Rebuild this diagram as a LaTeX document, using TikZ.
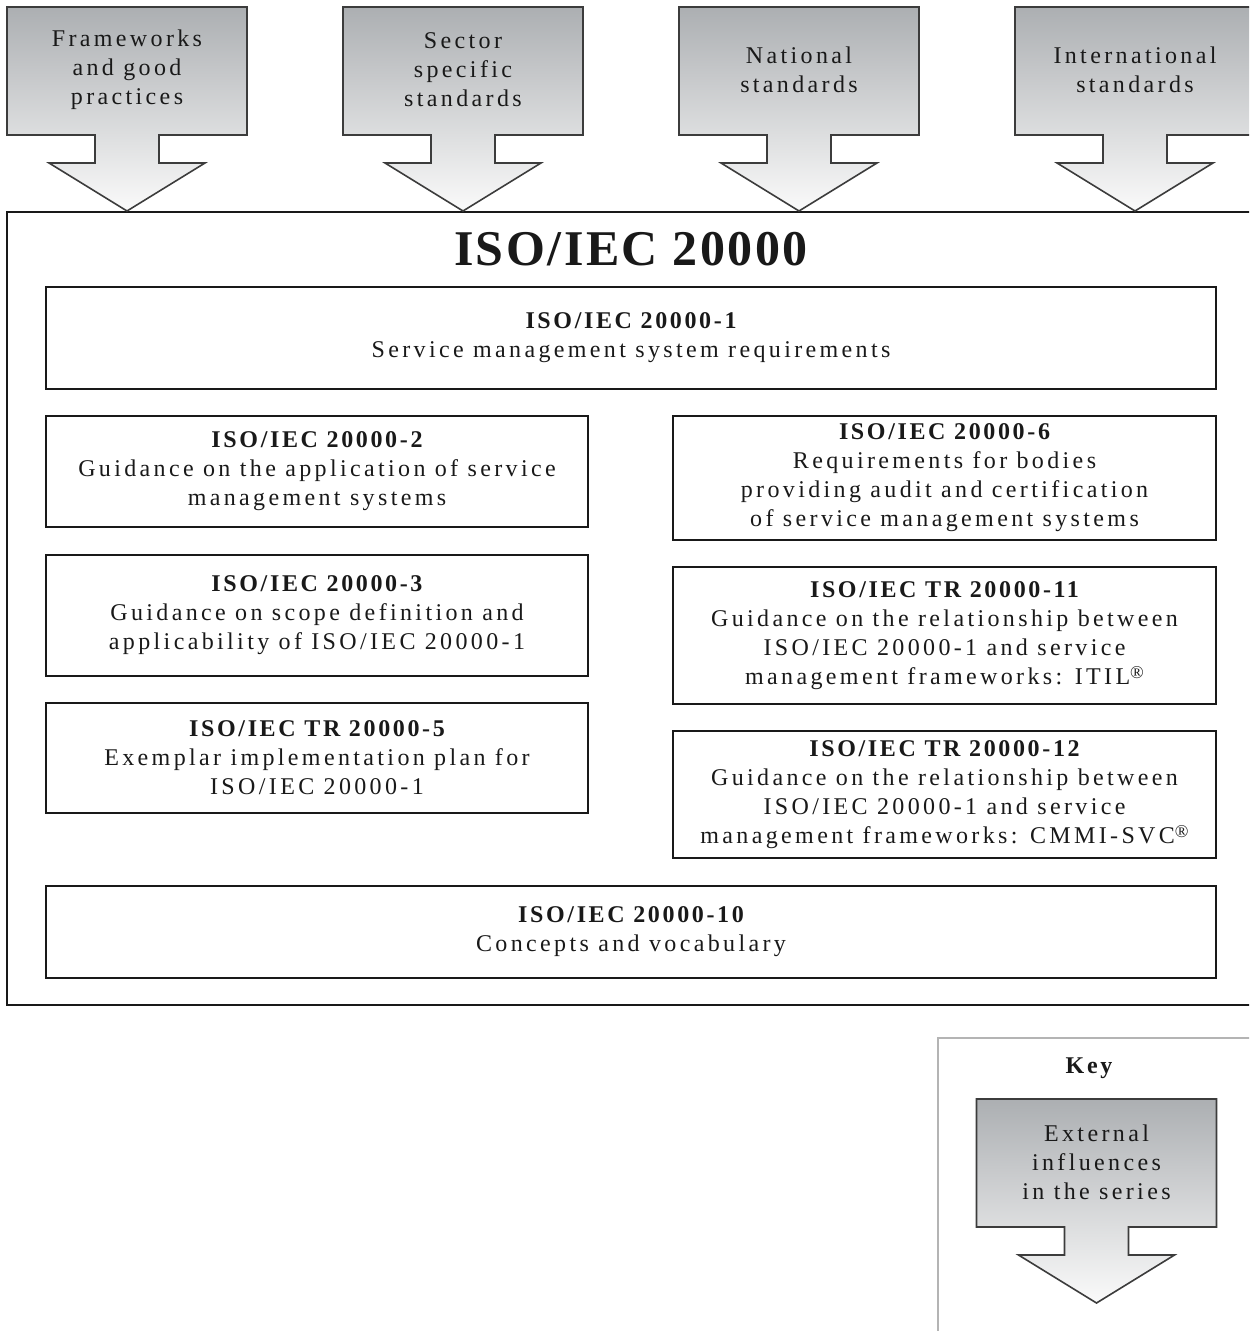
\documentclass[tikz,border=0pt]{standalone}
\usepackage{fontspec}
\setmainfont{Liberation Serif}[LetterSpace=14]
\newfontfamily\headfont{Liberation Serif}[LetterSpace=11]
\newfontfamily\titlefont{Liberation Serif}[LetterSpace=5]
\definecolor{arrtop}{RGB}{172,175,178}
\definecolor{arrbot}{RGB}{250,250,250}
\definecolor{keygray}{RGB}{180,180,180}
\definecolor{ink}{RGB}{25,25,25}
\tikzset{
  box/.style={draw=ink, line width=1pt, fill=white, align=center, inner sep=0pt,
    text=ink, font=\fontsize{12}{14.5}\selectfont},
  exttext/.style={align=center, inner sep=0pt, text=ink, font=\fontsize{12}{14.5}\selectfont},
  extshape/.style={draw=ink!85, line width=0.8pt, top color=arrtop, bottom color=arrbot},
}
\newcommand\hd[1]{{\headfont\bfseries #1}}
\newcommand\regmark{\raisebox{0.55ex}{\fontsize{9}{9}\selectfont ®}}
\newcommand\ExtArrow[4]{%
  \path[extshape] (#1-120,#2) -- (#1+120,#2) -- (#1+120,#2+128) -- (#1+32,#2+128)
    -- (#1+32,#2+156) -- (#1+78,#2+156) -- (#1,#2+204) -- (#1-78,#2+156)
    -- (#1-32,#2+156) -- (#1-32,#2+128) -- (#1-120,#2+128) -- cycle;
  \node[exttext] (#3) at (#1,#2+63) {#4};
}
\begin{document}
\begin{tikzpicture}[x=0.5pt,y=-0.5pt]
\useasboundingbox (0,0) rectangle (1249,1331);
\clip (0,0) rectangle (1249,1331);
% outer frame
\draw[ink, line width=1pt, fill=white] (7,212) rectangle (1262,1005);
% external influence arrows
\ExtArrow{127}{7}{fw}{Frameworks\\and good\\practices}
\ExtArrow{463}{7}{sec}{Sector\\specific\\standards}
\ExtArrow{799}{7}{nat}{National\\standards}
\ExtArrow{1135}{7}{intl}{International\\standards}
% title
\node[text=ink, inner sep=0pt, font=\fontsize{25}{30}\selectfont\titlefont\bfseries] (title) at (631,249) {ISO/IEC 20000};
% boxes
\node[box, minimum width=585pt, minimum height=51pt] (p1) at (631,338)
  {\hd{ISO/IEC 20000-1}\\Service management system requirements};
\node[box, minimum width=271pt, minimum height=55.5pt] (p2) at (317,471.5)
  {\hd{ISO/IEC 20000-2}\\Guidance on the application of service\\management systems};
\node[box, minimum width=271pt, minimum height=60.5pt] (p3) at (317,615.5)
  {\hd{ISO/IEC 20000-3}\\Guidance on scope definition and\\applicability of ISO/IEC 20000-1};
\node[box, minimum width=271pt, minimum height=55pt] (p5) at (317,758)
  {\hd{ISO/IEC TR 20000-5}\\Exemplar implementation plan for\\ISO/IEC 20000-1};
\node[box, minimum width=271.5pt, minimum height=62pt] (p6) at (944.5,478)
  {\hd{ISO/IEC 20000-6}\\Requirements for bodies\\providing audit and certification\\of service management systems};
\node[box, minimum width=271.5pt, minimum height=68.5pt] (p11) at (944.5,635.5)
  {\hd{ISO/IEC TR 20000-11}\\Guidance on the relationship between\\ISO/IEC 20000-1 and service\\management frameworks: ITIL\regmark};
\node[box, minimum width=271.5pt, minimum height=63.5pt] (p12) at (944.5,794.5)
  {\hd{ISO/IEC TR 20000-12}\\Guidance on the relationship between\\ISO/IEC 20000-1 and service\\management frameworks: CMMI-SVC\regmark};
\node[box, minimum width=585pt, minimum height=46pt] (p10) at (631,932)
  {\hd{ISO/IEC 20000-10}\\Concepts and vocabulary};
% key
\draw[keygray, line width=1pt] (938,1340) -- (938,1038) -- (1260,1038);
\node[text=ink, inner sep=0pt, font=\fontsize{12}{14.5}\selectfont\headfont\bfseries] (key) at (1089,1068) {Key};
\ExtArrow{1096.5}{1099}{keyarrow}{External\\influences\\in the series}
\end{tikzpicture}
\end{document}
